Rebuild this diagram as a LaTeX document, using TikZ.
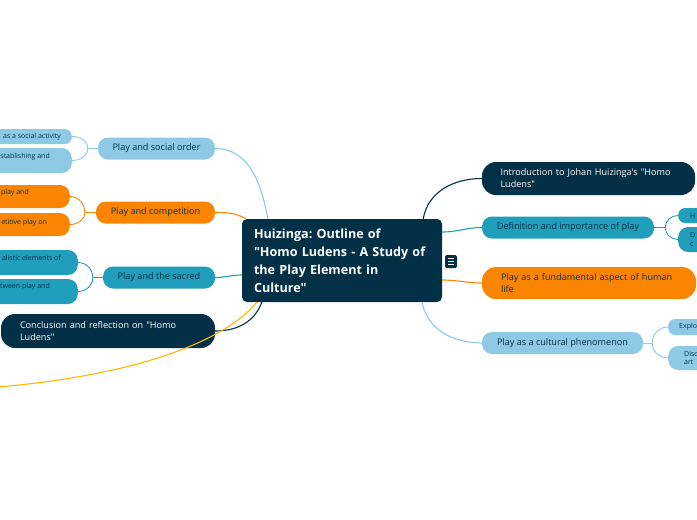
\documentclass[tikz,border=0pt]{standalone}
\usepackage{fontspec}
\setmainfont{Open Sans}[Ligatures=TeXOff]
\usepackage{tikz}
\usetikzlibrary{positioning}
\definecolor{hlnavy}{HTML}{023047}
\definecolor{hlteal}{HTML}{219EBC}
\definecolor{hlsky}{HTML}{8ECAE6}
\definecolor{hlorange}{HTML}{FB8500}
\definecolor{hlgold}{HTML}{FFB703}
\frenchspacing

\begin{document}
\begin{tikzpicture}[x=1pt, y=1pt,
  pill/.style={inner sep=0pt, rounded corners=10pt, minimum height=22pt, text=hlnavy, font=\fontsize{9.1}{12}\selectfont},
  wide/.style={inner sep=0pt, rounded corners=14pt, minimum height=33pt, text width=176pt, align=left, font=\fontsize{9.1}{12}\selectfont},
  kid/.style={inner sep=0pt, rounded corners=7pt, text=hlnavy, font=\fontsize{7}{9.5}\selectfont},
  kidtxt/.style={inner sep=0pt, anchor=east, text=hlnavy, font=\fontsize{7}{9.5}\selectfont},
  link/.style={line width=1.1pt},
  twig/.style={line width=0.9pt}]
\useasboundingbox (0,0) rectangle (697,-520);
\clip (0,0) rectangle (697,-520);

\node[fill=hlnavy, rounded corners=5pt, minimum width=200pt, minimum height=83pt, inner sep=0pt,
  text width=176pt, align=left, text=white, font=\bfseries\fontsize{12.6}{18}\selectfont] (ctr) at (342,-260.5)
  {Huizinga: Outline of\\"Homo Ludens - A Study of\\the Play Element in\\Culture"};
\node[fill=hlnavy, rounded corners=1.5pt, minimum width=12pt, minimum height=13pt, inner sep=0pt] (menu) at (451,-261.5) {};
\foreach \dy in {-3,0,3}
  \draw[white, line width=1pt] ([xshift=-3pt, yshift=\dy pt]menu.center) -- ([xshift=3pt, yshift=\dy pt]menu.center);

% right side
\node[wide, fill=hlnavy, text=white, minimum width=213pt] (intro) at (588.5,-178.5) {Introduction to Johan Huizinga's "Homo\\Ludens"};
\node[pill, fill=hlteal, minimum width=172pt] (defn) at (568,-227.5) {Definition and importance of play};
\node[wide, fill=hlorange, text=hlnavy, minimum width=214pt, minimum height=32pt] (fund) at (589,-283) {Play as a fundamental aspect of human\\life};
\node[pill, fill=hlsky, minimum width=161pt] (cult) at (562.5,-343) {Play as a cultural phenomenon};

\node[kid, fill=hlteal, anchor=west, minimum height=15pt, inner xsep=12pt, text width=30pt, align=left] (defa) at (678,-215.5) {H};
\node[kid, fill=hlteal, anchor=west, minimum height=25pt, rounded corners=10pt, inner xsep=12pt, text width=30pt, align=left] (defb) at (678,-239.5) {D\\c};
\node[kid, fill=hlsky, anchor=west, minimum height=16pt, inner xsep=11pt, text width=30pt, align=left] (culta) at (668,-327) {Explo};
\node[kid, fill=hlsky, anchor=west, minimum height=24pt, rounded corners=10pt, inner xsep=16pt, text width=30pt, align=left, font=\fontsize{7}{8.5}\selectfont] (cultb) at (668,-358) {Disc\\art};

% left side
\node[pill, fill=hlsky, minimum width=117pt] (soc) at (156.5,-148.5) {Play and social order};
\node[pill, fill=hlorange, minimum width=119pt] (comp) at (155.5,-212.5) {Play and competition};
\node[pill, fill=hlteal, minimum width=112pt] (sacr) at (159,-277.5) {Play and the sacred};
\node[wide, fill=hlnavy, text=white, minimum width=214pt, minimum height=34pt] (concl) at (108,-331) {Conclusion and reflection on "Homo\\Ludens"};

\node[kid, fill=hlsky, anchor=east, minimum width=102pt, minimum height=15pt] (soca) at (72,-136.5) {};
\node[kid, fill=hlsky, anchor=east, minimum width=102pt, minimum height=25pt, rounded corners=10pt] (socb) at (72,-160.5) {};
\node[kid, fill=hlorange, anchor=east, minimum width=100pt, minimum height=23pt, rounded corners=10pt] (compa) at (70,-196.5) {};
\node[kid, fill=hlorange, anchor=east, minimum width=100pt, minimum height=23pt, rounded corners=10pt] (compb) at (70,-224.5) {};
\node[kid, fill=hlteal, anchor=east, minimum width=108pt, minimum height=25pt, rounded corners=10pt] (sacra) at (78,-262.5) {};
\node[kid, fill=hlteal, anchor=east, minimum width=108pt, minimum height=25pt, rounded corners=10pt] (sacrb) at (78,-291.5) {};
\node[kidtxt] (socat) at (61,-137) {as a social activity};
\node[kidtxt] (socbt) at (50,-157) {stablishing and};
\node[kidtxt] (compat) at (29,-193) {play and};
\node[kidtxt] (compbt) at (47,-223) {etitive play on};
\node[kidtxt] (sacrat) at (61,-258) {alistic elements of};
\node[kidtxt] (sacrbt) at (50,-287) {tween play and};
\coordinate (lost) at (-30,-389);

% branches
\draw[link, hlnavy] ([xshift=-19pt]ctr.north east) to[out=80, in=180] (intro.west);
\draw[link, hlteal] ([yshift=28.5pt]ctr.east) to[out=0, in=180] (defn.west);
\draw[link, hlorange] ([yshift=-19.5pt]ctr.east) to[out=0, in=180] (fund.west);
\draw[link, hlsky] ([xshift=-20pt]ctr.south east) to[out=-80, in=180] (cult.west);
\draw[link, hlsky] (soc.east) to[out=0, in=100] ([xshift=26pt]ctr.north west);
\draw[link, hlorange] (comp.east) to[out=0, in=150] ([xshift=4pt]ctr.north west);
\draw[link, hlteal] (sacr.east) to[out=0, in=180] ([yshift=-14.5pt]ctr.west);
\draw[link, hlnavy] (concl.east) to[out=0, in=-110] ([xshift=20pt]ctr.south west);
\draw[link, hlgold] ([xshift=15pt]ctr.south west) .. controls +(-35,-43) and +(150,9) .. (lost);

% brackets
\draw[twig, hlteal] (defn.east) -- ++(11,0) coordinate (defj);
\draw[twig, hlteal] (defa.west) to[out=180, in=90] (defj) to[out=-90, in=180] (defb.west);
\draw[twig, hlsky] (cult.east) -- ++(9,0) coordinate (cultj);
\draw[twig, hlsky] (culta.west) to[out=180, in=90] (cultj) to[out=-90, in=180] (cultb.west);
\draw[twig, hlsky] (soc.west) -- ++(-10,0) coordinate (socj);
\draw[twig, hlsky] (soca.east) to[out=0, in=90] (socj) to[out=-90, in=0] (socb.east);
\draw[twig, hlorange] (comp.west) -- ++(-11,0) coordinate (compj);
\draw[twig, hlorange] (compa.east) to[out=0, in=90] (compj) to[out=-90, in=0] (compb.east);
\draw[twig, hlteal] (sacr.west) -- ++(-10,0) coordinate (sacrj);
\draw[twig, hlteal] (sacra.east) to[out=0, in=90] (sacrj) to[out=-90, in=0] (sacrb.east);
\end{tikzpicture}
\end{document}
